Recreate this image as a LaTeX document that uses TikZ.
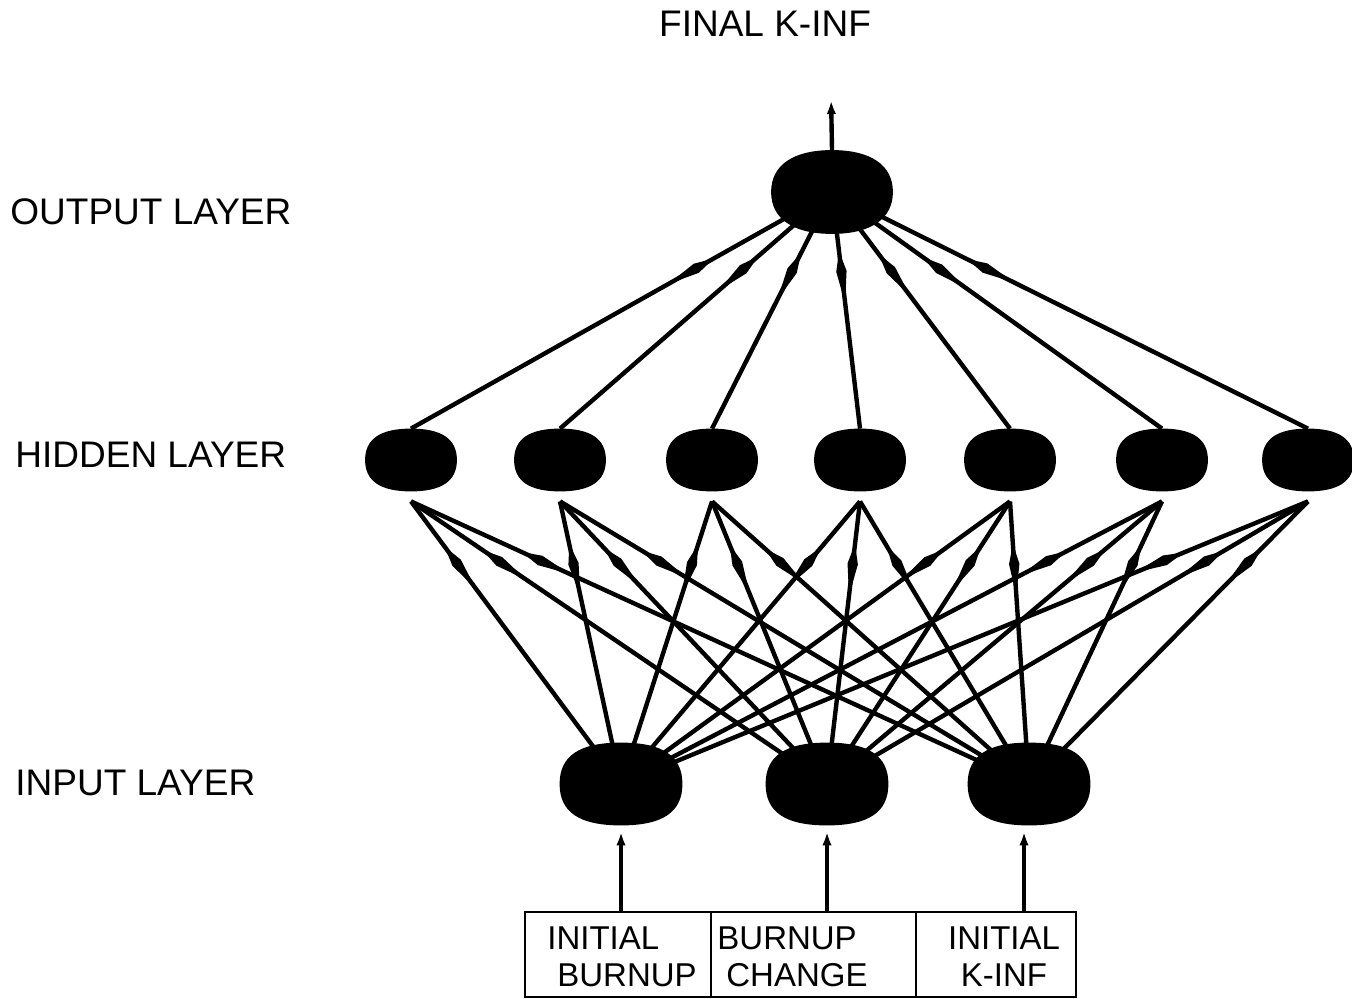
\documentclass[tikz,border=0pt]{standalone}
\usepackage{fontspec}
\setmainfont{Liberation Sans}
\usetikzlibrary{arrows.meta,decorations.markings,calc}

% filled rounded blob inside the bounding box of a node
\newcommand\neuronblob[2]{%
  \fill (#1.east)
    .. controls ($(#1.east)!#2!(#1.north east)$) and ($(#1.north)!#2!(#1.north east)$) .. (#1.north)
    .. controls ($(#1.north)!#2!(#1.north west)$) and ($(#1.west)!#2!(#1.north west)$) .. (#1.west)
    .. controls ($(#1.west)!#2!(#1.south west)$) and ($(#1.south)!#2!(#1.south west)$) .. (#1.south)
    .. controls ($(#1.south)!#2!(#1.south east)$) and ($(#1.east)!#2!(#1.south east)$) .. (#1.east) -- cycle;}

\begin{document}
\begin{tikzpicture}[
  x=0.5pt, y=-0.5pt,
  neuron/.style={rectangle, draw=none, inner sep=0pt},
  outneuron/.style={neuron, minimum width=60.5pt, minimum height=41.5pt},
  hidneuron/.style={neuron, minimum width=45.5pt, minimum height=31pt},
  inneuron/.style={neuron, minimum width=61pt, minimum height=41pt},
  layerlabel/.style={anchor=west, inner sep=0pt, font=\fontsize{18.5}{22}\selectfont},
  cell/.style={rectangle, draw=black, line width=0.9pt, inner sep=0pt, minimum height=42.5pt},
  celltext/.style={inner sep=0pt, font=\fontsize{16.5}{18.5}\selectfont},
  link/.style={line width=2.2pt, black},
  tip/.style={-{Latex[length=10pt,width=4.2pt]}},
  midarrow/.style={postaction={decorate}, decoration={markings,
      mark=at position #1 with {\fill (7pt,0pt) -- (-3pt,2.6pt) -- (-19pt,0pt) -- (-3pt,-2.6pt) -- cycle;}}}
]
\useasboundingbox (0,0) rectangle (1352,999);

% layer names
\node[layerlabel] (lout) at (10,212) {OUTPUT LAYER};
\node[layerlabel] (lhid) at (15,455) {HIDDEN LAYER};
\node[layerlabel] (lin)  at (15,783) {INPUT LAYER};
\node[inner sep=0pt, font=\fontsize{18.5}{22}\selectfont] (final) at (765,24) {FINAL K-INF};

% neurons
\node[outneuron] (out) at (832,192) {};
\neuronblob{out}{0.64}
\foreach \i/\x in {1/411,2/560,3/712,4/860,5/1010,6/1162,7/1308}{
  \node[hidneuron] (h\i) at (\x,460) {};
  \neuronblob{h\i}{0.67}
  \coordinate (hb\i) at ($(h\i.south)+(0,10)$);
}
\node[inneuron] (in1) at (621,784) {};
\node[inneuron] (in2) at (827,784) {};
\node[inneuron] (in3) at (1029,784) {};
\foreach \i in {1,2,3}{\neuronblob{in\i}{0.68}}

% input variables
\node[cell, minimum width=93pt]    (c1) at (618,954.5) {};
\node[cell, minimum width=102.5pt] (c2) at (813.5,954.5) {};
\node[cell, minimum width=80pt]    (c3) at (996,954.5) {};
\node[celltext, align=left, anchor=west]  (t1) at (547,957) {INITIAL\\\hspace*{5pt}BURNUP};
\node[celltext, align=left, anchor=west]  (t2) at (717,957) {BURNUP\\\hspace*{4.5pt}CHANGE};
\node[celltext, align=center] (t3) at (1004,957) {INITIAL\\K-INF};

% input -> hidden
\foreach \i in {1,2,3}{
  \foreach \j in {1,...,7}{
    \draw[link, midarrow=0.8] (in\i.center) -- (hb\j);
  }
}

% hidden -> output
\foreach \j in {1,...,7}{
  \draw[link, midarrow=0.69] (h\j.north) -- (out.center);
}

% output arrow
\coordinate (fin) at (831,94);
\draw[link, tip] (out.north) -- (fin);

% variables feeding the input layer
\draw[link, tip] (c1.north -| in1) -- (in1.south);
\draw[link, tip] (c2.north -| in2) -- (in2.south);
\draw[link, tip] ($(c3.north -| in3)+(-5,0)$) -- ($(in3.south)+(-5,0)$);

\end{tikzpicture}
\end{document}
